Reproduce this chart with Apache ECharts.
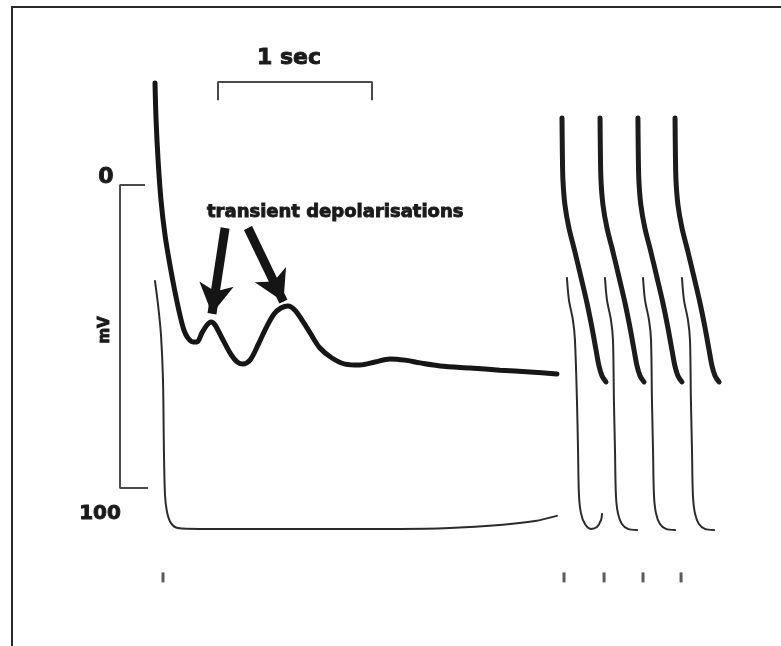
<!DOCTYPE html>
<html>
<head>
<meta charset="utf-8">
<script src="https://cdn.jsdelivr.net/npm/echarts@6/dist/echarts.min.js"></script>
<style>
  html, body { margin: 0; padding: 0; background: #fff; }
  #chart { width: 781px; height: 646px; }
</style>
</head>
<body>
<div id="chart"></div>
<script>
// time in seconds (0 = first stimulus), potential in mV as drawn
const thickTrace = [
  [-0.052, 33.7], [-0.045, 21.5], [-0.032, 8.3], [-0.013, -5.0], [0.013, -16.5],
  [0.045, -26.4], [0.078, -35.3], [0.110, -42.9], [0.136, -47.9], [0.162, -50.5],
  [0.195, -51.8], [0.221, -51.8], [0.253, -48.8], [0.286, -46.2], [0.312, -45.2],
  [0.338, -46.2], [0.383, -50.5], [0.435, -55.4], [0.481, -58.4], [0.519, -59.1],
  [0.565, -57.8], [0.617, -52.8], [0.669, -47.2], [0.721, -42.6], [0.766, -40.6],
  [0.812, -39.9], [0.857, -41.3], [0.903, -44.6], [0.955, -48.8], [1.019, -53.8],
  [1.097, -57.1], [1.182, -59.1], [1.279, -59.4], [1.377, -58.4], [1.474, -57.4],
  [1.571, -57.8], [1.669, -58.7], [1.799, -59.7], [1.994, -60.4], [2.188, -61.1],
  [2.383, -61.7], [2.558, -62.4]
];

const thinTrace = [
  [-0.052, -31.7], [-0.032, -39.6], [-0.013, -49.5], [0, -64.4], [0.006, -87.5],
  [0.013, -102.3], [0.026, -107.9], [0.052, -111.6], [0.097, -113.2], [0.240, -113.5],
  [0.890, -113.5], [1.539, -113.5], [1.864, -113.2], [2.188, -112.2], [2.416, -110.9],
  [2.558, -109.2]
];

const thickSpikes = [
  [[2.591, 22.1], [2.593, 11.6], [2.597, 1.7], [2.610, -6.6], [2.636, -14.2], [2.675, -22.1], [2.714, -30.4],
   [2.753, -38.9], [2.786, -47.2], [2.812, -54.5], [2.831, -59.7], [2.851, -63.0], [2.877, -65.0]],
  [[2.838, 22.1], [2.840, 11.6], [2.844, 1.7], [2.857, -6.6], [2.883, -14.2], [2.922, -22.1], [2.961, -30.4],
   [3.000, -38.9], [3.033, -47.2], [3.059, -54.5], [3.078, -59.7], [3.098, -63.0], [3.124, -65.0]],
  [[3.084, 22.1], [3.086, 11.6], [3.090, 1.7], [3.103, -6.6], [3.129, -14.2], [3.168, -22.1], [3.207, -30.4],
   [3.246, -38.9], [3.279, -47.2], [3.305, -54.5], [3.324, -59.7], [3.344, -63.0], [3.370, -65.0]],
  [[3.325, 22.1], [3.327, 11.6], [3.331, 1.7], [3.344, -6.6], [3.370, -14.2], [3.409, -22.1], [3.448, -30.4],
   [3.487, -38.9], [3.520, -47.2], [3.546, -54.5], [3.565, -59.7], [3.585, -63.0], [3.611, -65.0]]
];

const thinSpikes = [
  [[2.623, -30.7], [2.636, -38.0], [2.662, -44.6], [2.675, -51.2], [2.688, -71.0], [2.695, -87.5],
   [2.701, -102.3], [2.714, -108.3], [2.740, -111.9], [2.779, -113.5], [2.818, -112.9],
   [2.844, -110.6], [2.851, -108.6]],
  [[2.870, -30.7], [2.883, -38.0], [2.909, -44.6], [2.922, -51.2], [2.928, -71.0], [2.935, -87.5],
   [2.941, -102.3], [2.954, -108.3], [2.980, -111.9], [3.019, -113.5], [3.078, -113.9]],
  [[3.117, -30.7], [3.130, -38.0], [3.156, -44.6], [3.169, -51.2], [3.175, -71.0], [3.182, -87.5],
   [3.188, -102.3], [3.201, -108.3], [3.227, -111.9], [3.266, -113.5], [3.325, -113.9]],
  [[3.370, -30.7], [3.383, -38.0], [3.409, -44.6], [3.422, -51.2], [3.428, -71.0], [3.435, -87.5],
   [3.441, -102.3], [3.454, -108.3], [3.480, -111.9], [3.519, -113.5], [3.578, -113.9]]
];

const stimulusTimes = [0, 2.604, 2.864, 3.117, 3.364];
const stimulusLevel = -129.5;

// scale bars: 1 s and 100 mV
const timeBar = [[0.357, 28], [0.357, 34], [1.357, 34], [1.357, 28]];
const voltBar = [[-0.117, 0], [-0.279, 0], [-0.279, -100], [-0.097, -100]];

// arrows pointing at the two transient depolarisations
const arrowStarts = [[0.403, -14.2], [0.552, -14.2]];
const arrowEnds = [[0.318, -42.5], [0.782, -38.5]];

const chart = echarts.init(document.getElementById('chart'));

const traceLine = (data, width, color) => ({
  type: 'line',
  data,
  smooth: 0.3,
  showSymbol: false,
  silent: true,
  lineStyle: { width, color, cap: 'round' }
});

const series = [
  traceLine(thinTrace, 2, '#2b2b2b'),
  traceLine(thickTrace, 5, '#161616'),
  ...thinSpikes.map(s => traceLine(s, 2, '#2b2b2b')),
  ...thickSpikes.map(s => traceLine(s, 5, '#1c1c1c')),
  {
    type: 'line', data: timeBar, showSymbol: false, silent: true,
    lineStyle: { width: 2, color: '#4a4a4a' }
  },
  {
    type: 'line', data: voltBar, showSymbol: false, silent: true,
    lineStyle: { width: 2, color: '#4a4a4a' }
  },
  {
    type: 'scatter',
    data: stimulusTimes.map(t => [t, stimulusLevel]),
    symbol: 'rect',
    symbolSize: [3, 10],
    itemStyle: { color: '#333' },
    silent: true
  },
  {
    type: 'line',
    data: [],
    markLine: {
      silent: true,
      symbol: ['none', 'arrow'],
      symbolSize: [26, 30],
      label: { show: false },
      lineStyle: { type: 'solid', width: 9, color: '#151515' },
      data: arrowStarts.map((s, i) => [{ coord: s }, { coord: arrowEnds[i] }])
    }
  }
];

const textStyle = (text, size, align) => ({
  text,
  font: 'bold ' + size + 'px "DejaVu Sans"',
  fill: '#1a1a1a',
  stroke: '#1a1a1a',
  lineWidth: 0.9,
  align: align || 'center',
  verticalAlign: 'middle'
});

const option = {
  backgroundColor: '#fff',
  animation: false,
  grid: { left: 9, right: 2, top: 3.2, bottom: 6.5 },
  xAxis: { type: 'value', min: -1, max: 4, show: false },
  yAxis: { type: 'value', min: -150, max: 60, show: false },
  series,
  graphic: [
    {
      type: 'rect',
      shape: { x: 12, y: 7, width: 800, height: 700 },
      style: { fill: 'none', stroke: '#2a2a2a', lineWidth: 2 }
    },
    { type: 'text', x: 289, y: 58, style: textStyle('1 sec', 22) },
    { type: 'text', x: 207, y: 212, style: textStyle('transient depolarisations', 18, 'left') },
    { type: 'text', x: 106, y: 177, style: textStyle('0', 22) },
    { type: 'text', x: 100, y: 514, style: textStyle('100', 20) },
    { type: 'text', x: 105, y: 330, rotation: Math.PI / 2, style: textStyle('mV', 15) }
  ]
};

chart.setOption(option);
</script>
</body>
</html>
